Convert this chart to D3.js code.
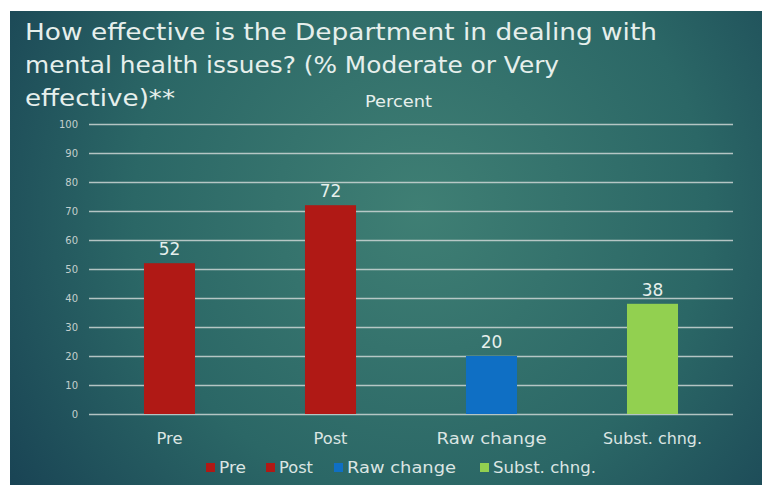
<!DOCTYPE html>
<html><head><meta charset="utf-8">
<script src="https://cdn.jsdelivr.net/npm/d3@7"></script>
<style>body{margin:0;background:#fff;overflow:hidden}</style>
</head><body>
<script>
const categories = ["Pre", "Post", "Raw change", "Subst. chng."];
const values = [52, 72, 20, 38];
const colors = ["#b01915", "#b01915", "#0f6fc4", "#92d050"];
const yTicks = [0,10,20,30,40,50,60,70,80,90,100];
const titleLines = ["How effective is the Department in dealing with", "mental health issues? (% Moderate or Very", "effective)**"];

const W = 762, H = 485;
const svg = d3.select("body").append("svg").attr("width", W).attr("height", H);
const defs = svg.append("defs");
const rg = defs.append("radialGradient").attr("id","bg").attr("gradientUnits","userSpaceOnUse")
  .attr("cx", 420).attr("cy", 210).attr("r", 520);
rg.append("stop").attr("offset","0%").attr("stop-color","#3f7f74");
rg.append("stop").attr("offset","55%").attr("stop-color","#2b6766");
rg.append("stop").attr("offset","100%").attr("stop-color","#173f52");
svg.append("rect").attr("x",10).attr("y",11).attr("width",W-10).attr("height",H-11).attr("fill","url(#bg)");

const font = "'Century Gothic', 'DejaVu Sans', sans-serif";
const tl = svg.append("g");
const tWidths = [632, 534, 150];
titleLines.forEach((t,i)=>{
  tl.append("text").attr("x",25).attr("y",40+i*33).text(t)
    .attr("font-family",font).attr("font-size",23).attr("fill","#e6efec")
    .attr("textLength", tWidths[i]).attr("lengthAdjust","spacingAndGlyphs");
});

const x = d3.scaleBand().domain(categories).range([89,733]).paddingInner(0.683).paddingOuter(0.3415);
const y = d3.scaleLinear().domain([0,100]).range([414,124]);

svg.append("text").attr("x",398.5).attr("y",107).attr("text-anchor","middle").text("Percent")
  .attr("font-family",font).attr("font-size",16).attr("fill","#e6efec")
  .attr("textLength",67).attr("lengthAdjust","spacingAndGlyphs");

const ga = svg.append("g").attr("transform","translate(89,0)")
  .call(d3.axisLeft(y).tickValues(yTicks).tickSize(-(733-89)).tickPadding(11));
ga.select(".domain").remove();
ga.selectAll(".tick line").attr("stroke","#cdd6d5").attr("stroke-width",1.3).attr("opacity",0.85);
ga.selectAll(".tick text").attr("font-family",font).attr("font-size",10).attr("fill","#c3cfcd");

svg.selectAll(".bar").data(values).join("rect").attr("class","bar")
  .attr("x",(d,i)=>x(categories[i])).attr("width",x.bandwidth())
  .attr("y",d=>y(d)).attr("height",d=>y(0)-y(d)).attr("fill",(d,i)=>colors[i]);

svg.selectAll(".lbl").data(values).join("text").attr("class","lbl")
  .attr("x",(d,i)=>x(categories[i])+x.bandwidth()/2).attr("y",d=>y(d)-8)
  .attr("text-anchor","middle").text(d=>d)
  .attr("font-family",font).attr("font-size",17).attr("fill","#e6efec");

const catW = [26, 34, 110, 99];
const gx = svg.append("g").attr("transform","translate(0,414)")
  .call(d3.axisBottom(x).tickSize(0).tickPadding(30));
gx.select(".domain").remove();
gx.selectAll(".tick text").attr("dy",0).attr("font-family",font).attr("font-size",15).attr("fill","#dbe5e3")
  .attr("textLength",(d,i)=>catW[i]).attr("lengthAdjust","spacingAndGlyphs");

const legX = [206, 266, 334, 480];
const legW = [27, 34, 109, 103];
const lg = svg.append("g");
categories.forEach((c,i)=>{
  lg.append("rect").attr("x",legX[i]).attr("y",463).attr("width",9).attr("height",9).attr("fill",colors[i]);
  lg.append("text").attr("x",legX[i]+13).attr("y",473).text(c)
    .attr("font-family",font).attr("font-size",15).attr("fill","#dbe5e3")
    .attr("textLength",legW[i]).attr("lengthAdjust","spacingAndGlyphs");
});
</script>
</body></html>
